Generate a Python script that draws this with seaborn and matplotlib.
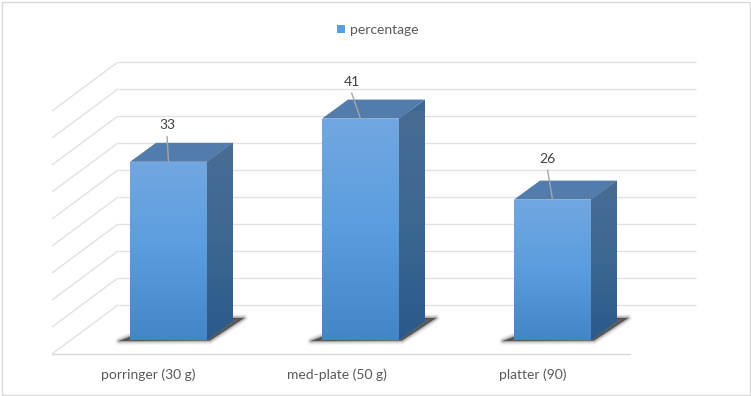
import numpy as np
import matplotlib
matplotlib.use("Agg")
import matplotlib.pyplot as plt
import seaborn as sns
from matplotlib.colors import LinearSegmentedColormap
from matplotlib.patches import Patch, Polygon, Rectangle

categories = ["porringer (30 g)", "med-plate (50 g)", "platter (90)"]
percentage = [33, 41, 26]
grid_values = [0, 5, 10, 15, 20, 25, 30, 35, 40, 45]
series_name = "percentage"

sns.set_theme(style="white")
plt.rcParams["font.family"] = ["Lato", "DejaVu Sans"]

W, H = 751, 396
fig = plt.figure(figsize=(W / 100, H / 100), dpi=100, facecolor="white")
ax = fig.add_axes([52 / W, (H - 354) / H, (630 - 52) / W, (354 - 111) / H])

PX = 1 / 192      # x data units per pixel
PY = 1 / 5.4      # y data units per pixel
BAR_W = 77 * PX
xlim = ((52 - 168.5) * PX, (630 - 168.5) * PX)
ylim = (-14 * PY, 229 * PY)

sns.barplot(x=categories, y=percentage, color="#5A9DDD", width=BAR_W,
            saturation=1, ax=ax, zorder=5, linewidth=0, edgecolor="none")

GRID = "#E1E1E1"
wall_dx, wall_dy = 66 * PX, 49 * PY
for v in grid_values:
    y0 = v + ylim[0]
    ax.plot([xlim[0], xlim[0] + wall_dx], [y0, y0 + wall_dy], color=GRID, lw=1.0,
            clip_on=False, zorder=1, solid_capstyle="butt")
    ax.plot([xlim[0] + wall_dx, xlim[1] + wall_dx], [y0 + wall_dy] * 2, color=GRID, lw=1.0,
            clip_on=False, zorder=1, solid_capstyle="butt")

front_cmap = LinearSegmentedColormap.from_list("f", ["#72A7E1", "#5A9DDE", "#4286C8"])
side_cmap = LinearSegmentedColormap.from_list("s", ["#4A6C94", "#3C6892", "#2A5A8B"])
grad = np.linspace(0, 1, 256).reshape(-1, 1)
dep_x, dep_y = 26 * PX, 19 * PY

leader_dx = [-1.5, -9, -5]
leader_len = [26, 26, 30]
label_dy = [37, 37, 41]
tick_shift = [-20, -23.5, -19.5]

for i, (bar, v) in enumerate(zip(ax.containers[0], percentage)):
    x0, x1 = bar.get_x(), bar.get_x() + bar.get_width()
    # soft floor shadow
    sh = [(x0 - 11 * PX, -1 * PY), (x1 + 3 * PX, -0.5 * PY), (x1 + 37 * PX, 22 * PY),
          (x1 + 5 * PX, 22 * PY), (x0 + 2 * PX, 4 * PY)]
    for lw, a in [(6, .04), (4.5, .06), (3, .09), (1.8, .12), (0.8, .15)]:
        ax.add_patch(Polygon(sh, closed=True, fc="none", ec=(0, 0, 0, a), lw=lw,
                             joinstyle="round", clip_on=False, zorder=2))
    ax.add_patch(Polygon(sh, closed=True, fc=(0.2, 0.2, 0.2, 0.75), ec="none",
                         clip_on=False, zorder=2.5))
    # front gradient
    im = ax.imshow(grad, extent=[x0, x1, 0, v], aspect="auto", cmap=front_cmap,
                   origin="upper", zorder=6, clip_on=True)
    im.set_clip_path(bar)
    # side
    side = Polygon([(x1, 0), (x1 + dep_x, dep_y), (x1 + dep_x, v + dep_y), (x1, v)],
                   closed=True, fc="#3C6892", ec="none", zorder=4, clip_on=False)
    ax.add_patch(side)
    ims = ax.imshow(grad, extent=[x1, x1 + dep_x, 0, v + dep_y], aspect="auto",
                    cmap=side_cmap, origin="upper", zorder=4.5)
    ims.set_clip_path(side)
    # top
    ax.add_patch(Polygon([(x0, v), (x1, v), (x1 + dep_x, v + dep_y), (x0 + dep_x, v + dep_y)],
                         closed=True, fc="#527CAB", ec="none", zorder=4.6, clip_on=False))
    # data label and leader line
    cx = (x0 + x1) / 2
    ax.plot([cx, cx + leader_dx[i] * PX], [v, v + leader_len[i] * PY], color="#A6A6A6", lw=1.0,
            clip_on=False, zorder=7, solid_capstyle="butt")
    ax.text(cx + leader_dx[i] * PX, v + label_dy[i] * PY, str(v), ha="center", va="center",
            fontsize=10, color="#404040", zorder=8, clip_on=False)

ax.set_xlim(*xlim)
ax.set_ylim(*ylim)
ax.set_yticks([])
ax.set_ylabel("")
ax.set_xticks([k + s * PX for k, s in enumerate(tick_shift)], categories)
ax.tick_params(axis="x", length=0, pad=10.5, labelsize=10, labelcolor="#595959")
for s in ["top", "left", "right"]:
    ax.spines[s].set_visible(False)
ax.spines["bottom"].set_color("#D9D9D9")
ax.spines["bottom"].set_linewidth(1.0)
ax.patch.set_alpha(0)

fig.legend(handles=[Patch(facecolor="#5A9DDD", edgecolor="none", label=series_name)],
           loc="center", bbox_to_anchor=(378 / W, (H - 30) / H), frameon=False,
           fontsize=10, labelcolor="#595959", handlelength=0.58, handleheight=0.58,
           handletextpad=0.35)

fig.add_artist(Rectangle((1.5 / W, 1.5 / H), (W - 3) / W, (H - 3) / H, transform=fig.transFigure,
                         fc="none", ec="#D9D9D9", lw=1.0))

fig.savefig("out.png", dpi=100)
